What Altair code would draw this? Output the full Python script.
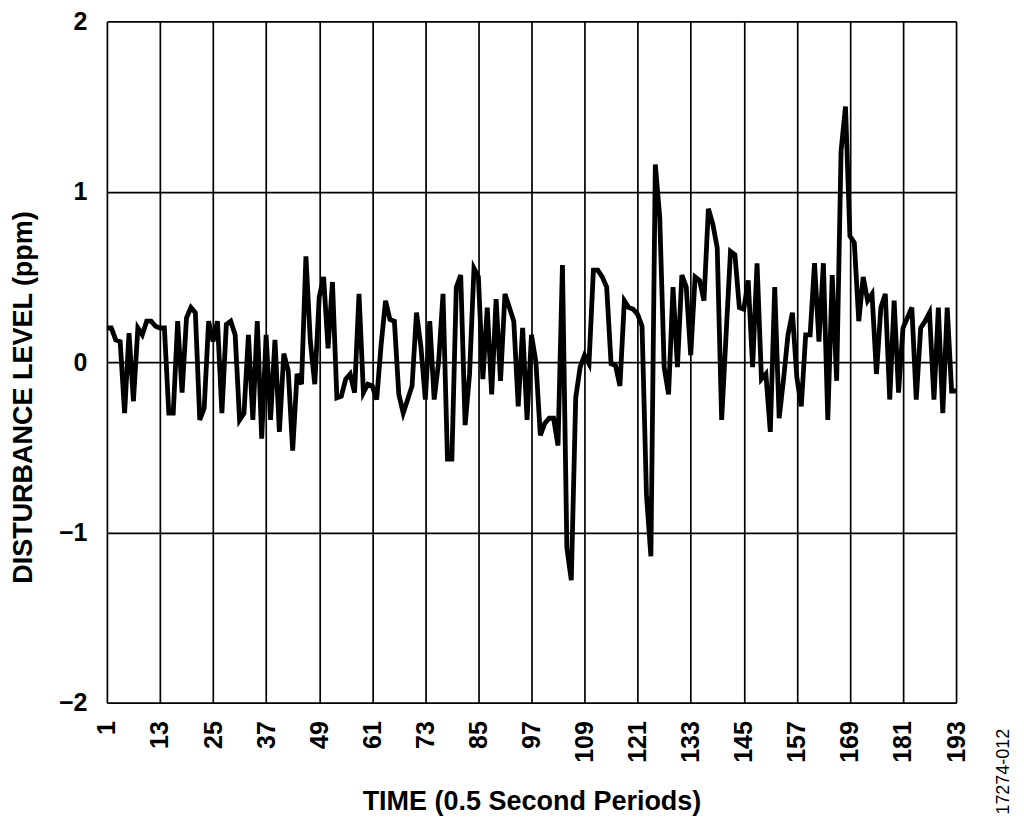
import altair as alt
import pandas as pd

time = list(range(1, 194))
level = [
    0.2, 0.2, 0.13, 0.12, -0.3, 0.17, -0.23, 0.2, 0.16, 0.24,
    0.24, 0.21, 0.2, 0.2, -0.3, -0.3, 0.24, -0.18, 0.26, 0.32,
    0.29, -0.34, -0.27, 0.24, 0.12, 0.24, -0.3, 0.22, 0.24, 0.16,
    -0.34, -0.3, 0.16, -0.34, 0.24, -0.45, 0.16, -0.34, 0.13, -0.41,
    0.05, -0.05, -0.52, -0.07, -0.13, 0.62, 0.12, -0.13, 0.38, 0.5,
    0.08, 0.47, -0.21, -0.2, -0.1, -0.07, -0.18, 0.4, -0.18, -0.13,
    -0.14, -0.22, 0.1, 0.36, 0.25, 0.24, -0.19, -0.3, -0.22, -0.14,
    0.29, 0.09, -0.22, 0.24, -0.22, 0.0, 0.4, -0.57, -0.57, 0.44,
    0.51, -0.37, -0.07, 0.55, 0.5, -0.1, 0.32, -0.19, 0.37, -0.11,
    0.4, 0.32, 0.24, -0.26, 0.2, -0.34, 0.16, 0.0, -0.43, -0.36,
    -0.33, -0.33, -0.49, 0.57, -1.09, -1.28, -0.21, -0.03, 0.04, -0.01,
    0.54, 0.54, 0.5, 0.44, -0.01, -0.02, -0.14, 0.36, 0.32, 0.31,
    0.28, 0.21, -0.78, -1.14, 1.16, 0.85, -0.03, -0.19, 0.44, -0.03,
    0.51, 0.44, 0.04, 0.5, 0.48, 0.36, 0.9, 0.81, 0.67, -0.34,
    0.16, 0.65, 0.63, 0.32, 0.31, 0.48, -0.03, 0.58, -0.1, -0.07,
    -0.41, 0.44, -0.33, -0.1, 0.16, 0.29, -0.09, -0.26, 0.16, 0.16,
    0.58, 0.12, 0.58, -0.34, 0.51, -0.11, 1.24, 1.5, 0.74, 0.7,
    0.24, 0.5, 0.36, 0.4, -0.07, 0.32, 0.4, -0.22, 0.36, -0.18,
    0.2, 0.26, 0.32, -0.22, 0.2, 0.24, 0.29, -0.22, 0.32, -0.3,
    0.32, -0.17, -0.17,
]
x_ticks = [1, 13, 25, 37, 49, 61, 73, 85, 97, 109, 121, 133, 145, 157, 169, 181, 193]
y_ticks = [-2, -1, 0, 1, 2]
figure_id = ["17274-012"]

df = pd.DataFrame({"time": time, "level": level})
FONT = "Liberation Sans"

line = alt.Chart(df).mark_line(color="black", strokeWidth=4.8, strokeJoin="miter").encode(
    x=alt.X(
        "time:Q",
        scale=alt.Scale(domain=[1, 193], nice=False, zero=False),
        axis=alt.Axis(
            values=x_ticks, title="TIME (0.5 Second Periods)", labelAngle=270,
            labelPadding=18, ticks=False, tickSize=0, domain=False,
            labelFontSize=25, labelFont=FONT, labelFontWeight="bold", labelColor="black",
            titleFontSize=27, titleFont=FONT, titleFontWeight="bold", titleColor="black",
            titleBaseline="alphabetic", titleY=107,
            grid=True, gridColor="black", gridWidth=1.7, gridOpacity=1,
        ),
    ),
    y=alt.Y(
        "level:Q",
        scale=alt.Scale(domain=[-2, 2], nice=False),
        axis=alt.Axis(
            values=y_ticks, title="DISTURBANCE LEVEL (ppm)", format="d",
            labelPadding=20, ticks=False, tickSize=0, domain=False,
            labelFontSize=25, labelFont=FONT, labelFontWeight="bold", labelColor="black",
            titleFontSize=27, titleFont=FONT, titleFontWeight="bold", titleColor="black",
            titleX=-83, titleY=376, titleBaseline="middle",
            grid=True, gridColor="black", gridWidth=1.7, gridOpacity=1,
        ),
    ),
)

note = alt.Chart(pd.DataFrame({"t": figure_id})).mark_text(
    angle=270, fontSize=18, font=FONT, color="black", align="center", baseline="middle"
).encode(
    text="t:N",
    x=alt.value(898),
    y=alt.value(751),
)

chart = alt.layer(line, note).properties(
    width=850,
    height=682,
    autosize=alt.AutoSizeParams(type="none"),
    padding={"left": 99, "top": 13, "right": 60, "bottom": 115},
).configure_view(stroke="black", strokeWidth=3).configure(background="white")

chart.save("out.html", embed_options={"renderer": "svg", "actions": False})
